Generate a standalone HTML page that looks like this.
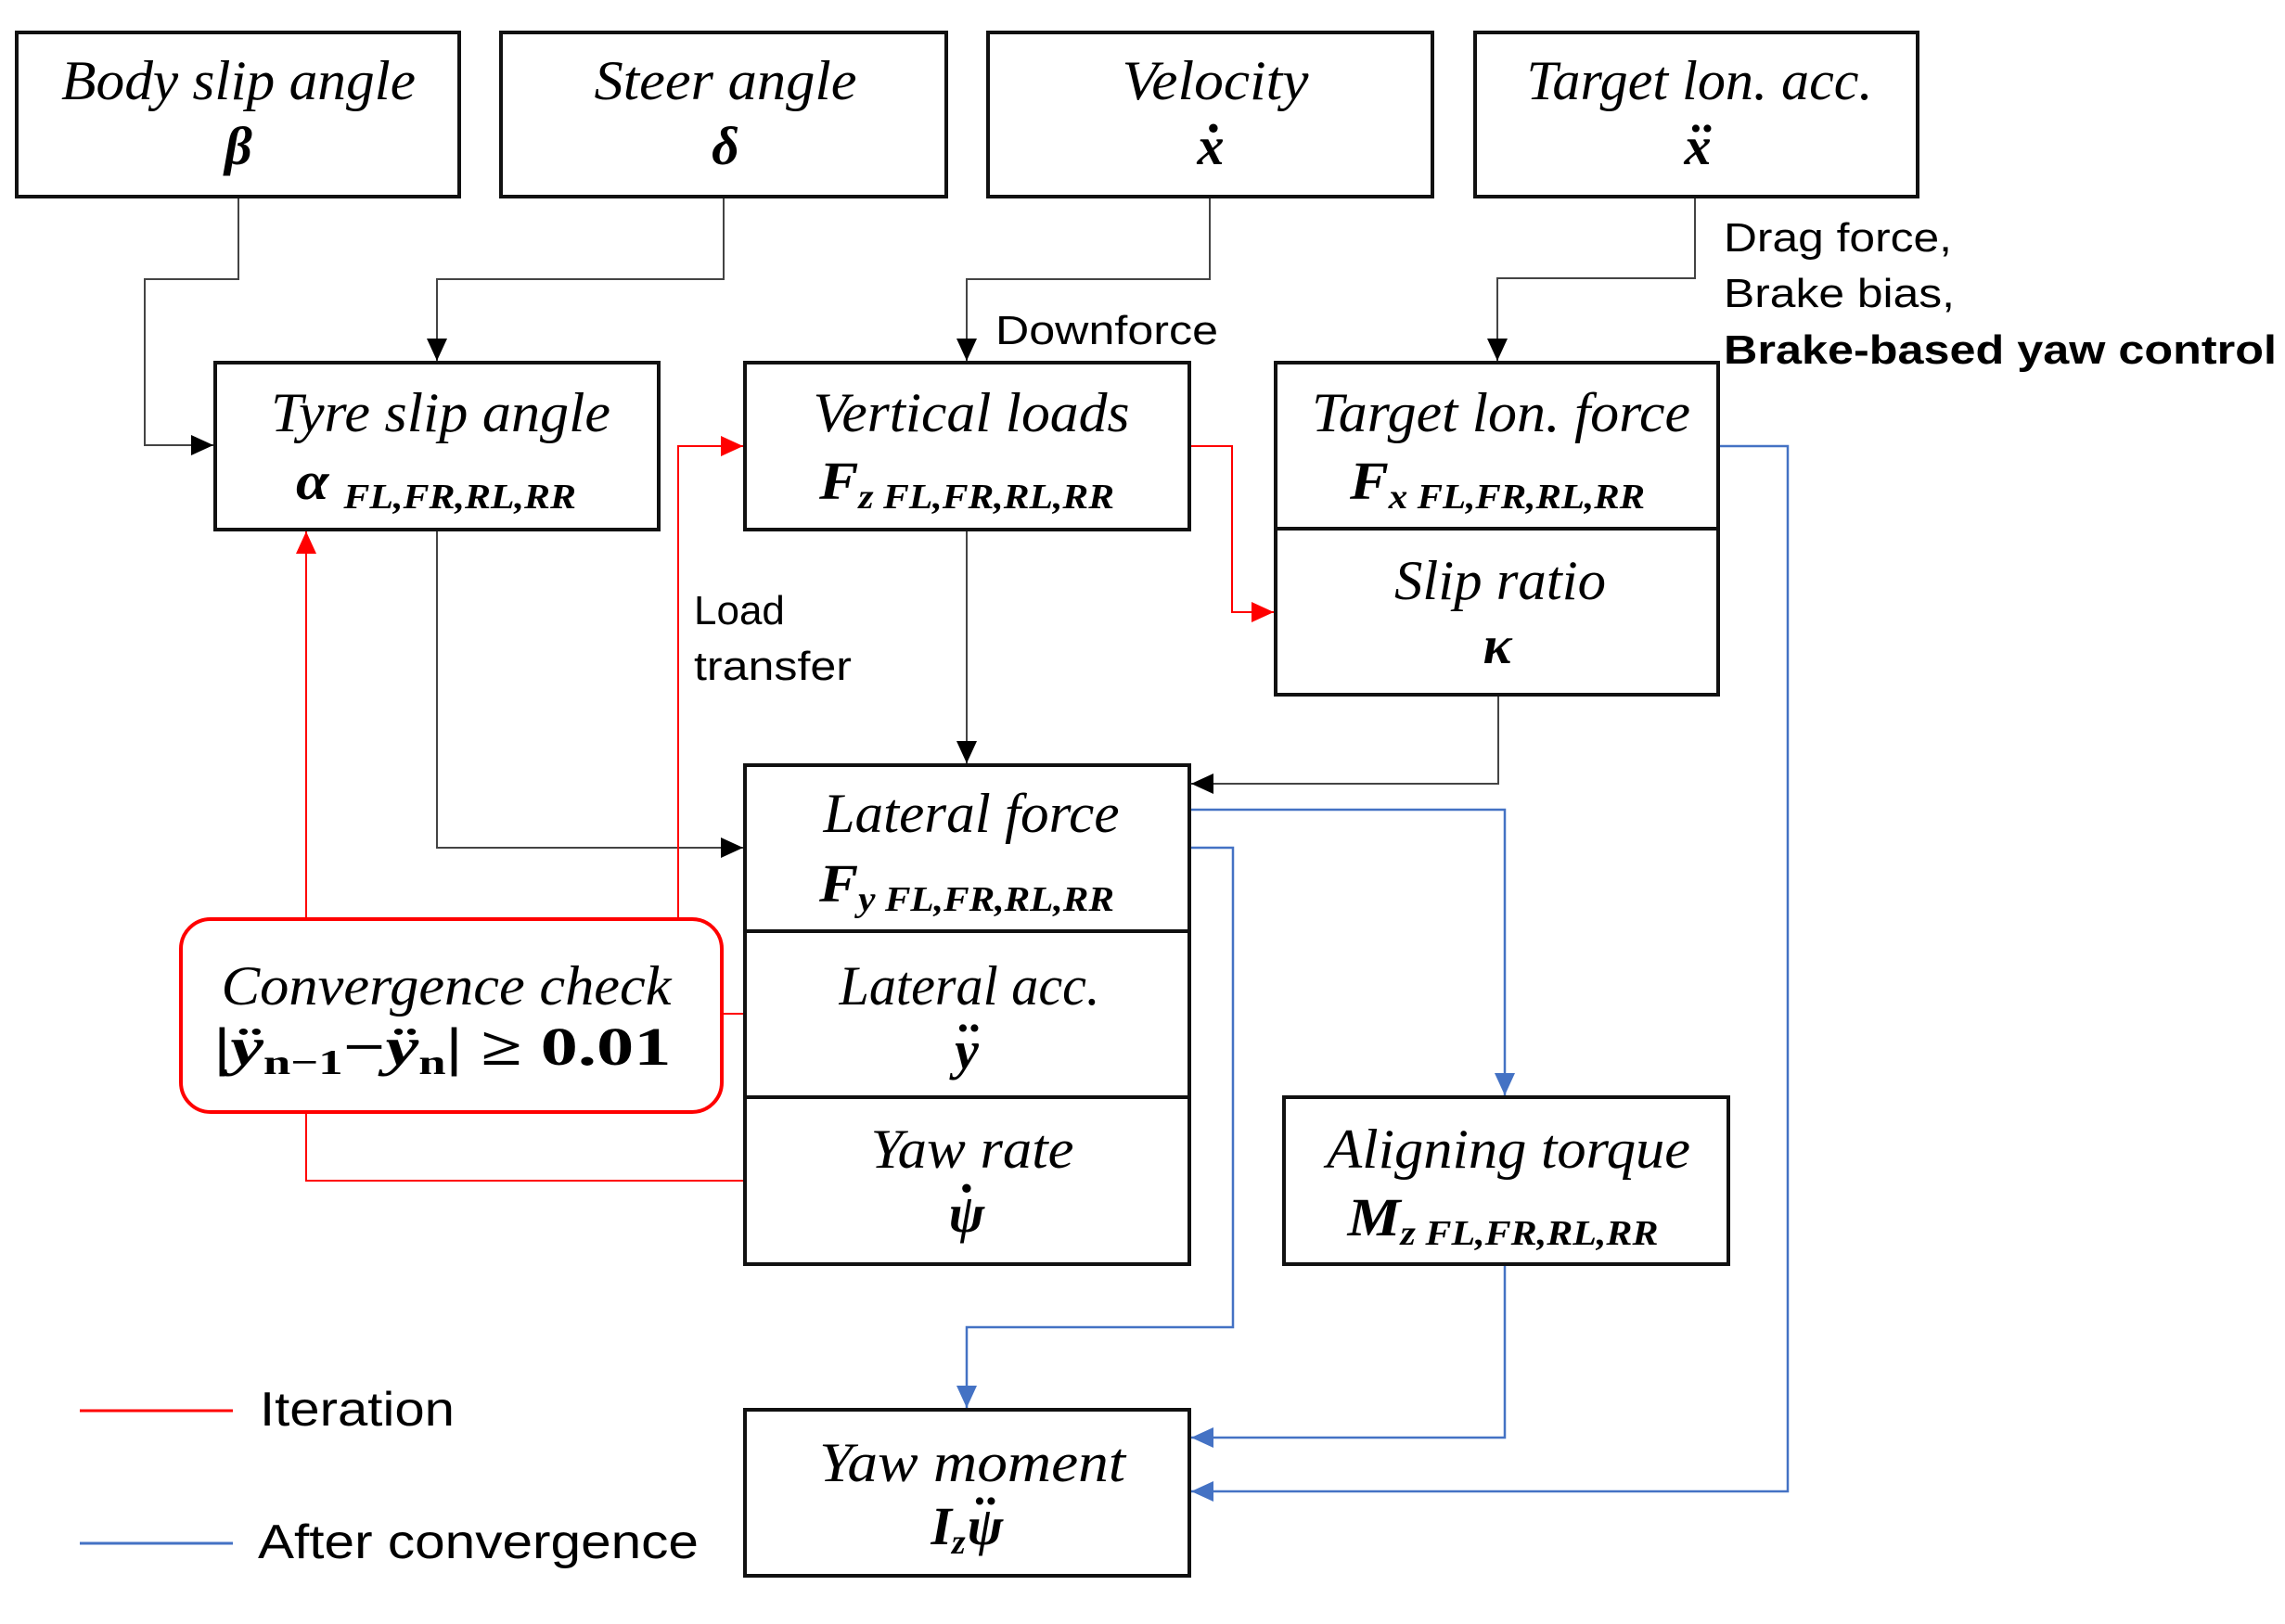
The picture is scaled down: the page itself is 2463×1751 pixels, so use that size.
<!DOCTYPE html>
<html><head><meta charset="utf-8"><style>
html,body{margin:0;padding:0;background:#fff;}
svg{display:block;}
.t{font-family:"Liberation Serif",serif;font-style:italic;font-size:60px;text-anchor:middle;}
.m{font-family:"Liberation Serif",serif;font-style:italic;font-weight:bold;font-size:58px;text-anchor:middle;}
.s{font-size:38px;}
.a{font-family:"Liberation Sans",sans-serif;font-size:44px;}
</style></head><body>
<svg width="2463" height="1751" viewBox="0 0 2463 1751" xmlns="http://www.w3.org/2000/svg">
<defs>
<marker id="ak" markerWidth="24" markerHeight="22" refX="24" refY="11" orient="auto" markerUnits="userSpaceOnUse" viewBox="0 0 24 22"><path d="M0,0 L24,11 L0,22 z" fill="#000"/></marker>
<marker id="ar" markerWidth="24" markerHeight="22" refX="24" refY="11" orient="auto" markerUnits="userSpaceOnUse" viewBox="0 0 24 22"><path d="M0,0 L24,11 L0,22 z" fill="#f00"/></marker>
<marker id="ab" markerWidth="24" markerHeight="22" refX="24" refY="11" orient="auto" markerUnits="userSpaceOnUse" viewBox="0 0 24 22"><path d="M0,0 L24,11 L0,22 z" fill="#4472c4"/></marker>
</defs>
<style>
.k{fill:none;stroke:#444;stroke-width:2;}
.r{fill:none;stroke:#f00;stroke-width:2;}
.b{fill:none;stroke:#4472c4;stroke-width:2.5;}
.bx{fill:#fff;stroke:#111;stroke-width:4;}
</style>
<path class="k" d="M257,212 V301 H156 V480 H230" marker-end="url(#ak)"/>
<path class="k" d="M780,212 V301 H471 V389" marker-end="url(#ak)"/>
<path class="k" d="M1304,212 V301 H1042 V389" marker-end="url(#ak)"/>
<path class="k" d="M1827,212 V300 H1614 V389" marker-end="url(#ak)"/>
<path class="k" d="M471,571 V914 H801" marker-end="url(#ak)"/>
<path class="k" d="M1042,571 V823" marker-end="url(#ak)"/>
<path class="k" d="M1615,749 V845 H1284" marker-end="url(#ak)"/>
<path class="r" d="M330,991 V573" marker-end="url(#ar)"/>
<path class="r" d="M731,991 V481 H801" marker-end="url(#ar)"/>
<path class="r" d="M1282,481 H1328 V660 H1373" marker-end="url(#ar)"/>
<path class="r" d="M330,1199 V1273 H803"/>
<path class="r" d="M778,1093 H803"/>
<path class="b" d="M1282,873 H1622 V1181" marker-end="url(#ab)"/>
<path class="b" d="M1282,914 H1329 V1431 H1042 V1518" marker-end="url(#ab)"/>
<path class="b" d="M1622,1363 V1550 H1284" marker-end="url(#ab)"/>
<path class="b" d="M1852,481 H1927 V1608 H1284" marker-end="url(#ab)"/>
<rect class="bx" x="18" y="35" width="477" height="177"/>
<rect class="bx" x="540" y="35" width="480" height="177"/>
<rect class="bx" x="1065" y="35" width="479" height="177"/>
<rect class="bx" x="1590" y="35" width="477" height="177"/>
<rect class="bx" x="232" y="391" width="478" height="180"/>
<rect class="bx" x="803" y="391" width="479" height="180"/>
<rect class="bx" x="1375" y="391" width="477" height="179"/>
<rect class="bx" x="1375" y="570" width="477" height="179"/>
<rect class="bx" x="803" y="825" width="479" height="179"/>
<rect class="bx" x="803" y="1004" width="479" height="179"/>
<rect class="bx" x="803" y="1183" width="479" height="180"/>
<rect class="bx" x="1384" y="1183" width="479" height="180"/>
<rect class="bx" x="803" y="1520" width="479" height="179"/>
<rect x="195" y="991" width="583" height="208" rx="32" fill="#fff" stroke="#f00" stroke-width="4"/>
<g lengthAdjust="spacingAndGlyphs">
<text class="t" x="257" y="107" textLength="382" lengthAdjust="spacingAndGlyphs">Body slip angle</text>
<text class="m" x="257" y="177">β</text>
<text class="t" x="782" y="107" textLength="283" lengthAdjust="spacingAndGlyphs">Steer angle</text>
<text class="m" x="782" y="177">δ</text>
<text class="t" x="1310" y="107" textLength="201" lengthAdjust="spacingAndGlyphs">Velocity</text>
<text class="m" x="1305" y="177">x</text><text class="m" x="1310" y="142">.</text>
<text class="t" x="1832" y="107" textLength="373" lengthAdjust="spacingAndGlyphs">Target lon. acc.</text>
<text class="m" x="1830" y="177">x</text><text class="m" x="1836" y="142" style="font-size:50px">..</text>
<text class="t" x="475" y="465" textLength="366" lengthAdjust="spacingAndGlyphs">Tyre slip angle</text>
<text class="m" x="470" y="538" textLength="302" lengthAdjust="spacingAndGlyphs">α <tspan class="s" dy="10">FL,FR,RL,RR</tspan></text>
<text class="t" x="1047" y="465" textLength="341" lengthAdjust="spacingAndGlyphs">Vertical loads</text>
<text class="m" x="1042" y="538" textLength="318" lengthAdjust="spacingAndGlyphs">F<tspan class="s" dy="10">z FL,FR,RL,RR</tspan></text>
<text class="t" x="1618" y="465" textLength="408" lengthAdjust="spacingAndGlyphs">Target lon. force</text>
<text class="m" x="1614" y="538" textLength="318" lengthAdjust="spacingAndGlyphs">F<tspan class="s" dy="10">x FL,FR,RL,RR</tspan></text>
<text class="t" x="1617" y="646" textLength="228" lengthAdjust="spacingAndGlyphs">Slip ratio</text>
<text class="m" x="1614" y="715">κ</text>
<text class="t" x="1047" y="897" textLength="319" lengthAdjust="spacingAndGlyphs">Lateral force</text>
<text class="m" x="1042" y="972" textLength="318" lengthAdjust="spacingAndGlyphs">F<tspan class="s" dy="10">y FL,FR,RL,RR</tspan></text>
<text class="t" x="1045" y="1083" textLength="281" lengthAdjust="spacingAndGlyphs">Lateral acc.</text>
<text class="m" x="1042" y="1152">y</text><text class="m" x="1046" y="1112" style="font-size:50px">..</text>
<text class="t" x="1048" y="1259" textLength="219" lengthAdjust="spacingAndGlyphs">Yaw rate</text>
<text class="m" x="1042" y="1328">ψ</text><text class="m" x="1044" y="1285">.</text>
<text class="t" x="1626" y="1259" textLength="392" lengthAdjust="spacingAndGlyphs">Aligning torque</text>
<text class="m" x="1620" y="1332" textLength="335" lengthAdjust="spacingAndGlyphs">M<tspan class="s" dy="10">z FL,FR,RL,RR</tspan></text>
<text class="t" x="1048" y="1597" textLength="330" lengthAdjust="spacingAndGlyphs">Yaw moment</text>
<text class="m" x="1022" y="1665">I<tspan class="s" dy="10">z</tspan></text>
<text class="m" x="1062" y="1665">ψ</text><text class="m" x="1064" y="1622" style="font-size:50px">..</text>
<text class="t" x="481" y="1083" textLength="485" lengthAdjust="spacingAndGlyphs">Convergence check</text>
<text class="m" x="477" y="1148" textLength="493" lengthAdjust="spacingAndGlyphs" style="font-style:normal">|<tspan font-style="italic">ÿ</tspan><tspan class="s" dy="10">n−1</tspan><tspan dy="-10">−</tspan><tspan font-style="italic">ÿ</tspan><tspan class="s" dy="10">n</tspan><tspan dy="-10">| ≥ 0.01</tspan></text>
<text class="a" x="1073" y="371" textLength="240" lengthAdjust="spacingAndGlyphs">Downforce</text>
<text class="a" x="748" y="673">Load</text>
<text class="a" x="748" y="733" textLength="170" lengthAdjust="spacingAndGlyphs">transfer</text>
<text class="a" x="1858" y="271" textLength="246" lengthAdjust="spacingAndGlyphs">Drag force,</text>
<text class="a" x="1858" y="331" textLength="249" lengthAdjust="spacingAndGlyphs">Brake bias,</text>
<text class="a" x="1858" y="392" font-weight="bold" textLength="596" lengthAdjust="spacingAndGlyphs">Brake-based yaw control</text>
<line x1="86" y1="1521" x2="251" y2="1521" stroke="#f00" stroke-width="3"/>
<text class="a" x="280" y="1537" style="font-size:52px" textLength="210" lengthAdjust="spacingAndGlyphs">Iteration</text>
<line x1="86" y1="1664" x2="251" y2="1664" stroke="#4472c4" stroke-width="3"/>
<text class="a" x="278" y="1680" style="font-size:52px" textLength="475" lengthAdjust="spacingAndGlyphs">After convergence</text>
</g>
</svg>
</body></html>
